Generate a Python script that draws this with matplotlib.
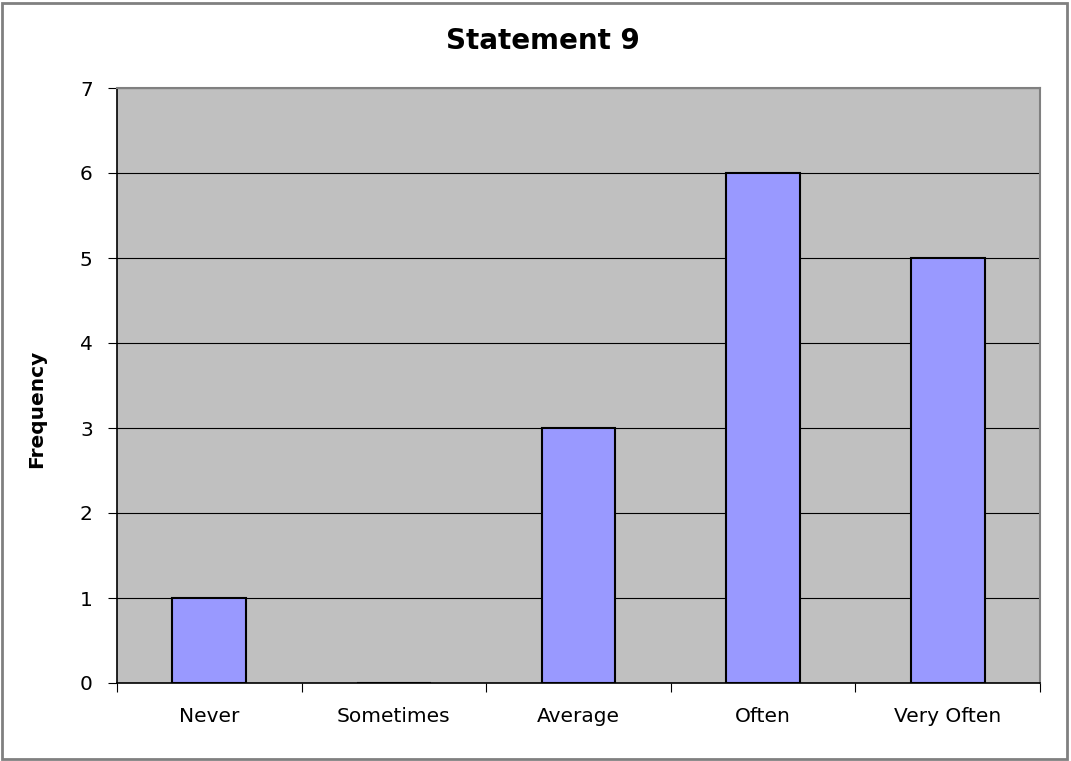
import matplotlib
matplotlib.use("Agg")
import matplotlib.pyplot as plt
from matplotlib.patches import Rectangle

categories = ["Never", "Sometimes", "Average", "Often", "Very Often"]
values = [1, 0, 3, 6, 5]
yticks = [0, 1, 2, 3, 4, 5, 6, 7]

plt.rcParams['font.family'] = ['DejaVu Sans']

fig = plt.figure(figsize=(10.71, 7.61), dpi=100)
ax = fig.add_axes([117/1071, 78/761, 923/1071, 595/761])
ax.set_facecolor("#C0C0C0")

x = list(range(len(categories)))
ax.bar(x, values, width=0.4, color="#9999FF", edgecolor="black", linewidth=1.5, zorder=3)

ax.set_xlim(-0.5, len(categories) - 0.5)
ax.set_ylim(0, 7)
ax.set_yticks(yticks)
ax.set_yticklabels([str(v) for v in yticks], fontsize=14.5)
ax.yaxis.grid(True, color="black", linewidth=0.8, zorder=1)
ax.set_axisbelow(True)

ax.set_xticks([i - 0.5 for i in range(len(categories) + 1)])
ax.set_xticklabels([])
ax.set_xticks(x, minor=True)
ax.set_xticklabels(categories, minor=True, fontsize=14.5)
ax.tick_params(axis='x', which='minor', length=0, pad=17)
ax.tick_params(axis='x', which='major', length=6.5, direction='out', color='black')
ax.tick_params(axis='y', length=6.5, direction='out', pad=11)

for s in ['left', 'bottom']:
    ax.spines[s].set_color('black')
    ax.spines[s].set_linewidth(1.2)
for s in ['top', 'right']:
    ax.spines[s].set_color('#808080')
    ax.spines[s].set_linewidth(1.5)

fig.text(37/1071, 1 - 409/761, "Frequency", ha='center', va='center', rotation=90,
         fontsize=14.5, fontweight='bold')
fig.text(543/1071, 1 - 41/761, "Statement 9", ha='center', va='center',
         fontsize=20, fontweight='bold')

fig.patches.append(Rectangle((2/1071, 2/761), 1065/1071, 756/761, transform=fig.transFigure,
                             fill=False, edgecolor='#808080', linewidth=2))

fig.savefig("out.png", dpi=100)
